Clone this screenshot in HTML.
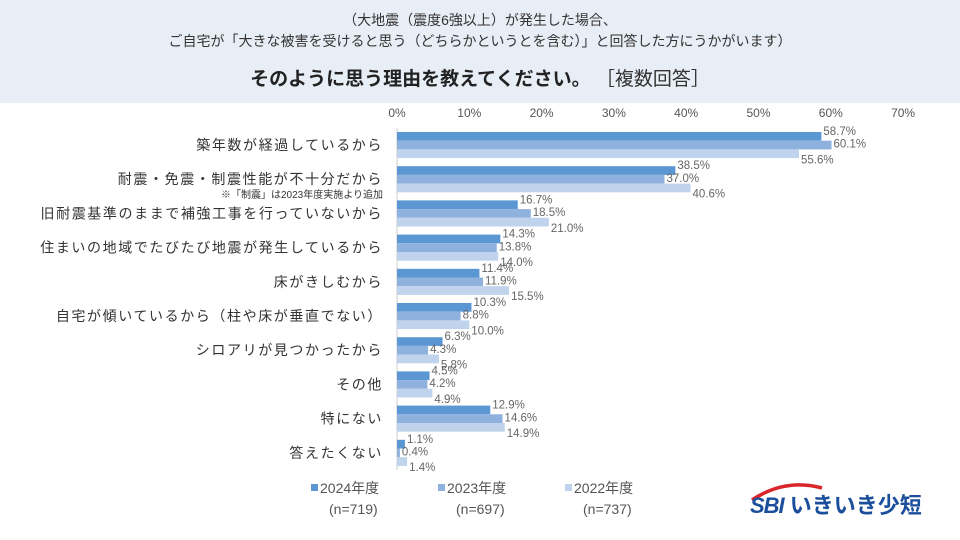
<!DOCTYPE html>
<html><head><meta charset="utf-8"><style>
body{margin:0;width:960px;height:540px;background:#fff;font-family:"Liberation Sans","Noto Sans CJK JP",sans-serif;overflow:hidden;position:relative}
#hdr{position:absolute;left:0;top:0;width:960px;height:103px;background:#e8eef6}
.t{position:absolute;white-space:nowrap}
</style></head><body>
<div id="hdr"></div>
<div class="t" style="left:0;width:960px;text-align:center;top:10px;font-size:14px;line-height:21px;color:#333">（大地震（震度6強以上）が発生した場合、<br>ご自宅が「大きな被害を受けると思う（どちらかというとを含む）」と回答した方にうかがいます）</div>
<div class="t" style="left:0;width:960px;text-align:center;top:64px;font-size:19px;font-weight:bold;color:#222">そのように思う理由を教えてください。 <span style="font-weight:normal;color:#333">［複数回答］</span></div>
<svg id="c" width="960" height="540" style="position:absolute;left:0;top:0"></svg>
<div class="t" style="left:750px;top:488px;font-size:22px;font-weight:bold;color:#1b4f9c"><i style="letter-spacing:-1px">SBI</i> いきいき少短</div>
<script>
const categories=["築年数が経過しているから","耐震・免震・制震性能が不十分だから","旧耐震基準のままで補強工事を行っていないから","住まいの地域でたびたび地震が発生しているから","床がきしむから","自宅が傾いているから（柱や床が垂直でない）","シロアリが見つかったから","その他","特にない","答えたくない"];
const v2024=[58.7,38.5,16.7,14.3,11.4,10.3,6.3,4.5,12.9,1.1];
const v2023=[60.1,37.0,18.5,13.8,11.9,8.8,4.3,4.2,14.6,0.4];
const v2022=[55.6,40.6,21.0,14.0,15.5,10.0,5.8,4.9,14.9,1.4];
const ticks=[0,10,20,30,40,50,60,70];
const seriesNames=["2024年度","2023年度","2022年度"];
const seriesN=["(n=719)","(n=697)","(n=737)"];
const colors=["#5b97d3","#8fb1de","#c0d3ec"];
const svg=document.getElementById('c');const NS="http://www.w3.org/2000/svg";
const x=v=>397+v*7.23;
const gy=i=>132+i*34.2;
const lblOff=[3,7,14];
function mk(t,a,p){const e=document.createElementNS(NS,t);for(const k in a)e.setAttribute(k,a[k]);(p||svg).appendChild(e);return e;}
ticks.forEach(t=>{const e=mk('text',{x:x(t),y:117,'text-anchor':'middle','font-size':12,fill:'#555'});e.textContent=t+'%';

});
const ax=mk('line',{x1:397,x2:397,y1:128,y2:470,stroke:'#ccc'});


const series=[v2024,v2023,v2022];
categories.forEach((c,i)=>{
 const t=mk('text',{x:383,y:gy(i)+18,'text-anchor':'end','font-size':14,'letter-spacing':1.6,fill:'#333'});t.textContent=c;
 
 
 series.forEach((s,j)=>{
  const y=gy(i)+j*8.7;
  const r=mk('rect',{x:397,y:y,width:x(s[i])-397,height:8.7,fill:colors[j]});
  
  
  const l=mk('text',{x:x(s[i])+2,y:y+lblOff[j],'font-size':11.5,fill:'#666'});l.textContent=s[i].toFixed(1)+'%';
  
  
 });
});
const note=mk('text',{x:383,y:198,'text-anchor':'end','font-size':10,fill:'#333'});note.textContent='※「制震」は2023年度実施より追加';


const lx=[311,438,565];
seriesNames.forEach((n,j)=>{
 const r=mk('rect',{x:lx[j],y:484,width:7,height:7,fill:colors[j]});
 
 
 const t=mk('text',{x:lx[j]+9,y:493,'font-size':14,fill:'#555'});t.textContent=n;
 
 
 const t2=mk('text',{x:lx[j]+18,y:514,'font-size':14,fill:'#555'});t2.textContent=seriesN[j];
 
 
});
const arc=mk('path',{d:'M752 500 Q785 478 822 488',stroke:'#d9262b','stroke-width':3.5,fill:'none'});


</script>
</body></html>
